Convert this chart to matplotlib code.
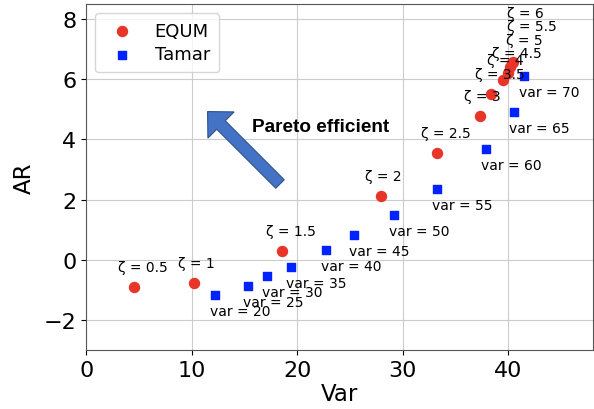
import numpy as np
import matplotlib.pyplot as plt
from matplotlib.patches import FancyArrow
from matplotlib.transforms import IdentityTransform

# EQUM results for each zeta
zeta = [0.5, 1, 1.5, 2, 2.5, 3, 3.5, 4, 4.5, 5, 5.5, 6]
equm_var = [4.5, 10.2, 18.6, 27.9, 33.2, 37.3, 38.4, 39.5, 40.0, 40.2, 40.3, 40.4]
equm_ar = [-0.90, -0.78, 0.29, 2.12, 3.56, 4.76, 5.52, 5.96, 6.22, 6.42, 6.52, 6.58]

# Tamar results for each variance constraint
tamar_lim = [20, 25, 30, 35, 40, 45, 50, 55, 60, 65, 70]
tamar_var = [12.2, 15.3, 17.1, 19.4, 22.7, 25.4, 29.2, 33.2, 37.9, 40.5, 41.5]
tamar_ar = [-1.17, -0.87, -0.53, -0.25, 0.32, 0.82, 1.50, 2.35, 3.69, 4.91, 6.11]

# label offsets (pixels); the crowded top labels were pushed up by hand
zeta_offsets = {5: (-4, 27), 5.5: (-5, 37), 6: (-6, 49)}

fig = plt.figure(figsize=(5.94, 4.10), dpi=100)
ax = fig.add_axes([0.145, 0.144, 0.853, 0.844])

ax.scatter(equm_var, equm_ar, s=52, marker='o', color='#e8352a', label='EQUM', zorder=3)
ax.scatter(tamar_var, tamar_ar, s=34, marker='s', color='#0022ff', label='Tamar', zorder=3)

for z, x, y in zip(zeta, equm_var, equm_ar):
    ax.annotate('ζ = %g' % z, (x, y), xytext=zeta_offsets.get(z, (-16, 20)),
                textcoords='offset pixels', ha='left', va='center', fontsize=10)
for v, x, y in zip(tamar_lim, tamar_var, tamar_ar):
    ax.annotate('var = %d' % v, (x, y), xytext=(-5, -16), textcoords='offset pixels',
                ha='left', va='center', fontsize=10)

ax.set_xlim(0, 48)
ax.set_ylim(-3, 8.5)
ax.set_xticks([0, 10, 20, 30, 40])
ax.set_yticks([-2, 0, 2, 4, 6, 8])
ax.tick_params(labelsize=16)
ax.set_xlabel('Var', fontsize=16.5, labelpad=2)
ax.set_ylabel('AR', fontsize=16.5, labelpad=6)
ax.grid(True, color='#cccccc', linewidth=0.8)
ax.set_axisbelow(True)
for sp in ax.spines.values():
    sp.set_color('#555555')

ax.legend(loc='upper left', fontsize=13, borderpad=0.5, labelspacing=0.3,
          handletextpad=0.8)

# Pareto arrow, drawn in display pixels (origin bottom-left)
tail_x, tail_y = 280, 410 - 185
arr = FancyArrow(tail_x, tail_y, -59, 59, width=12, head_width=37, head_length=19,
                 length_includes_head=False, transform=IdentityTransform(),
                 facecolor='#4472c4', edgecolor='#2f528f', linewidth=0.8, zorder=4)
fig.patches.append(arr)
fig.text(252 / 594, 1 - 127 / 410, 'Pareto efficient', fontsize=13.7, fontweight='bold',
         family='Liberation Sans', ha='left', va='center')

fig.savefig('out.png', dpi=100)
